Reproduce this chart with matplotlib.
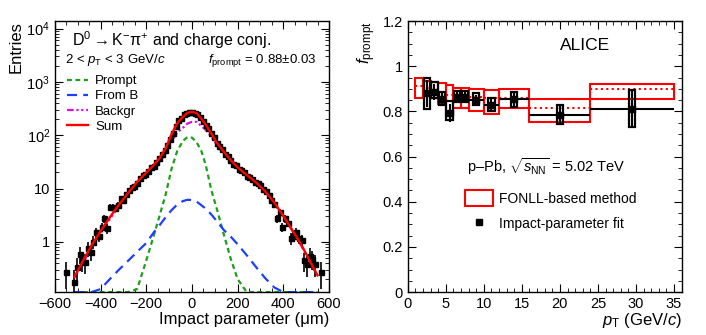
import numpy as np
import matplotlib
matplotlib.use("Agg")
import matplotlib.pyplot as plt
from matplotlib.patches import Rectangle, Patch
from matplotlib.lines import Line2D
from matplotlib.ticker import MultipleLocator, FixedLocator, LogLocator, NullFormatter, FuncFormatter

plt.rcParams["font.family"] = "Liberation Sans"
plt.rcParams["mathtext.fontset"] = "custom"
plt.rcParams["mathtext.rm"] = "Liberation Sans"
plt.rcParams["mathtext.it"] = "Liberation Sans:italic"
plt.rcParams["mathtext.bf"] = "Liberation Sans:bold"

# ---- left panel: impact parameter distribution, 2 < pT < 3 GeV/c ----
counts = [0.27, 0, 0, 0.18, 0.34, 0.60, 0.45, 0.42, 0.75, 0.65,
          1.0, 1.5, 1.3, 1.9, 2.75, 1.78, 4.5, 4.5, 4.4, 5.0,
          6.5, 6.0, 7.8, 9.3, 10.5, 11, 12.5, 15.5, 18, 19,
          21, 25, 26, 32, 37, 44, 53, 65, 84, 112,
          150, 190, 210, 245, 262, 278, 272, 265, 255, 222,
          188, 155, 135, 108, 92, 70, 63, 54, 44, 40,
          35, 29, 28, 23, 22.5, 20, 17, 16.5, 15, 13,
          12.5, 11.5, 9.8, 8.8, 7.5, 6.0, 5.2, 2.75, 3.6, 1.9,
          2.75, 2.3, 1.16, 1.3, 1.5, 1.2, 1.08, 0.45, 0.39, 0.55,
          0.48, 0.39, 0, 0.27]
count_err = [0.14, 0, 0, 0.115, 0.16, 0.21, 0.18, 0.175, 0.23, 0.22,
             0.27, 0.33, 0.31, 0.37, 0.45, 0.36, 0.57, 0.57, 0.57, 0.6,
             0.69, 0.66, 0.75, 0.82, 0.88, 0.9, 0.96, 1.06, 1.15, 1.18,
             1.24, 1.35, 1.38, 1.53, 1.64, 1.79, 1.97, 2.18, 2.48, 2.86,
             3.3, 3.7, 3.9, 4.2, 4.4, 4.5, 4.5, 4.4, 4.3, 4.0,
             3.7, 3.4, 3.1, 2.8, 2.6, 2.26, 2.14, 1.99, 1.79, 1.71,
             1.6, 1.46, 1.43, 1.3, 1.28, 1.21, 1.11, 1.1, 1.05, 0.97,
             0.96, 0.92, 0.85, 0.8, 0.74, 0.66, 0.62, 0.45, 0.51, 0.37,
             0.45, 0.41, 0.29, 0.31, 0.33, 0.3, 0.28, 0.18, 0.17, 0.2,
             0.19, 0.17, 0, 0.14]
bin_width = 12
first_bin = -552

curve_x = [-515, -480, -440, -400, -360, -320, -280, -240, -200, -170, -140, -115,
           -90, -65, -40, -20, 0, 20, 40, 60, 85, 110, 140, 170, 200, 240,
           280, 320, 360, 400, 440, 480, 520, 550]
prompt = [0.01, 0.01, 0.01, 0.01, 0.01, 0.01, 0.01, 0.13, 0.45, 1.2, 3.3, 7.8,
          23, 50, 78, 92, 90, 74, 52, 28, 9.3, 4.0, 1.35, 0.48, 0.2, 0.06,
          0.01, 0.01, 0.01, 0.01, 0.01, 0.01, 0.01, 0.01]
from_b = [0.01, 0.03, 0.08, 0.13, 0.2, 0.3, 0.44, 0.65, 0.95, 1.45, 2.1, 2.9,
          3.9, 5.0, 5.8, 6.15, 6.1, 5.7, 4.9, 4.2, 3.25, 2.4, 1.66, 1.25, 0.9, 0.56,
          0.34, 0.21, 0.14, 0.09, 0.05, 0.03, 0.02, 0.01]
backgr = [0.21, 0.39, 0.78, 1.45, 2.65, 4.65, 7.75, 12.5, 18.6, 24.1, 32.4, 46,
          76, 112, 137, 165, 178, 178, 150, 126, 95, 64.5, 45.5, 32, 24, 17.3,
          12.8, 8.7, 5.35, 2.99, 1.6, 0.83, 0.39, 0.22]
total = [0.22, 0.42, 0.855, 1.6, 2.87, 4.97, 8.2, 13.3, 20, 26.8, 38, 57,
         103, 167, 221, 263, 275, 260, 206, 158, 107, 71, 48.6, 34, 25, 17.9,
         13.1, 8.9, 5.5, 3.08, 1.65, 0.865, 0.41, 0.235]

# ---- right panel: f_prompt vs pT ----
fonll_lo_pt = [1, 2, 3, 4, 5, 6, 7, 8, 10, 12, 16, 24]
fonll_hi_pt = [2, 3, 4, 5, 6, 7, 8, 10, 12, 16, 24, 35]
fonll_c = [0.911, 0.905, 0.895, 0.885, 0.875, 0.87, 0.87, 0.865, 0.86, 0.86, 0.817, 0.898]
fonll_min = [0.861, 0.87, 0.86, 0.835, 0.785, 0.815, 0.815, 0.80, 0.79, 0.815, 0.753, 0.855]
fonll_max = [0.949, 0.935, 0.93, 0.925, 0.915, 0.905, 0.905, 0.90, 0.893, 0.90, 0.855, 0.92]

fit_lo_pt = [2, 3, 4, 5, 6, 7, 8, 10, 12, 16, 24]
fit_hi_pt = [3, 4, 5, 6, 7, 8, 10, 12, 16, 24, 35]
fit_val = [0.88, 0.885, 0.855, 0.795, 0.865, 0.865, 0.85, 0.83, 0.853, 0.786, 0.812]
fit_stat = [0.06, 0.035, 0.025, 0.04, 0.022, 0.022, 0.022, 0.028, 0.03, 0.038, 0.08]
fit_syst_min = [0.81, 0.86, 0.83, 0.76, 0.84, 0.84, 0.83, 0.80, 0.82, 0.746, 0.731]
fit_syst_max = [0.95, 0.93, 0.885, 0.845, 0.89, 0.89, 0.88, 0.86, 0.885, 0.827, 0.896]

fig = plt.figure(figsize=(7.06, 3.35), dpi=100)
ax1 = fig.add_axes([0.0779, 0.128, 0.388, 0.810])
ax2 = fig.add_axes([0.5775, 0.128, 0.388, 0.809])

ymin = 0.114
ax1.set_yscale("log")
ax1.set_xlim(-600, 600)
ax1.set_ylim(ymin, 1.4e4)

curve_x = np.array(curve_x)
ax1.plot(curve_x, np.maximum(prompt, ymin), color="#1e9e1e", lw=1.6, ls=(0, (2.2, 1.6)), label="Prompt")
ax1.plot(curve_x, np.maximum(from_b, ymin), color="#1f3fff", lw=1.6, ls=(0, (4.5, 2.8)), label="From B")
ax1.plot(curve_x, np.maximum(backgr, ymin), color="#dd10dd", lw=1.6, ls=(0, (3, 1.2, 1, 1.2, 1, 1.2)), label="Backgr")

counts = np.array(counts, dtype=float)
count_err = np.array(count_err, dtype=float)
centres = first_bin + bin_width * np.arange(len(counts))
keep = counts > 0
ax1.errorbar(centres[keep], counts[keep], yerr=count_err[keep], xerr=bin_width / 2,
             fmt="s", color="black", ms=3.6, lw=1.2, capsize=0, zorder=3)
ax1.plot(curve_x, total, color="red", lw=1.7, label="Sum", zorder=4)

ax1.xaxis.set_major_locator(MultipleLocator(200))
ax1.xaxis.set_minor_locator(MultipleLocator(50))
ax1.yaxis.set_major_locator(FixedLocator([1, 10, 100, 1000, 10000]))
ax1.set_yticklabels(["1", "10", "10$^{2}$", "10$^{3}$", "10$^{4}$"])
ax1.yaxis.set_minor_locator(LogLocator(base=10, subs=np.arange(2, 10)))
ax1.yaxis.set_minor_formatter(NullFormatter())

ax1.set_xlabel("Impact parameter (μm)", fontsize=12, loc="right")
ax1.xaxis.set_label_coords(1.0, -0.075)
ax1.set_ylabel("Entries", fontsize=12, loc="top")
ax1.yaxis.set_label_coords(-0.115, 1.0)

ax1.text(0.062, 0.928, "D$^{0}$ $\\!\\!\\rightarrow\\!\\!$ K$^{-}$π$^{+}$ and charge conj.", transform=ax1.transAxes,
         fontsize=11.5, va="center", ha="left")
ax1.text(0.036, 0.855, "2 < $p_{\\rm T}$ < 3 GeV/$c$", transform=ax1.transAxes,
         fontsize=9.5, va="center", ha="left")
ax1.text(0.955, 0.855, "$f_{\\rm prompt}$ = 0.88±0.03", transform=ax1.transAxes,
         fontsize=9.5, va="center", ha="right")

ax1.legend(loc="upper left", bbox_to_anchor=(0.045, 0.80), frameon=False, fontsize=9.5,
           handlelength=1.6, handletextpad=0.5, labelspacing=0.22, borderaxespad=0, borderpad=0)

# right panel
for lo, hi, c, fmin, fmax in zip(fonll_lo_pt, fonll_hi_pt, fonll_c, fonll_min, fonll_max):
    ax2.add_patch(Rectangle((lo, fmin), hi - lo, fmax - fmin, fill=False, ec="red", lw=1.5, zorder=2))
    ax2.hlines(c, lo, hi, colors="red", linestyles=(0, (1, 1.6)), lw=1.5, zorder=2)

box_w = 0.85
for lo, hi, v, smin, smax in zip(fit_lo_pt, fit_hi_pt, fit_val, fit_syst_min, fit_syst_max):
    c = 0.5 * (lo + hi)
    ax2.hlines(v, lo, hi, colors="black", lw=1.5, zorder=3)
    ax2.add_patch(Rectangle((c - box_w / 2, smin), box_w, smax - smin, fill=False, ec="black", lw=1.6, zorder=3))
fit_c = 0.5 * (np.array(fit_lo_pt) + np.array(fit_hi_pt))
ax2.errorbar(fit_c, fit_val, yerr=fit_stat, fmt="s", color="black", ms=4, lw=1.5, capsize=0, zorder=4)

ax2.set_xlim(0, 36)
ax2.set_ylim(0, 1.2)
ax2.xaxis.set_major_locator(MultipleLocator(5))
ax2.xaxis.set_minor_locator(MultipleLocator(1))
ax2.yaxis.set_major_locator(MultipleLocator(0.2))
ax2.yaxis.set_minor_locator(MultipleLocator(0.05))
ax2.yaxis.set_major_formatter(FuncFormatter(lambda v, p: "%g" % round(v, 2)))

ax2.set_xlabel("$p_{\\rm T}$ (GeV/$c$)", fontsize=12, loc="right")
ax2.xaxis.set_label_coords(1.0, -0.07)
ax2.set_ylabel("$f_{\\rm prompt}$", fontsize=12, loc="top")
ax2.yaxis.set_label_coords(-0.11, 1.0)

ax2.text(0.647, 0.911, "ALICE", transform=ax2.transAxes, fontsize=12.5, ha="center", va="center")
ax2.text(0.216, 0.461, "p–Pb, $\\sqrt{s_{\\rm NN}}$ = 5.02 TeV", transform=ax2.transAxes,
         fontsize=10.5, ha="left", va="center")

handles = [Patch(facecolor="none", edgecolor="red", lw=1.5),
           Line2D([], [], marker="s", color="black", ls="none", ms=4)]
ax2.legend(handles, ["FONLL-based method", "Impact-parameter fit"], loc="upper left",
           bbox_to_anchor=(0.21, 0.375), frameon=False, fontsize=10, handlelength=2.0,
           handleheight=1.3, handletextpad=0.45, labelspacing=0.75, borderaxespad=0, borderpad=0)

for ax in (ax1, ax2):
    ax.tick_params(which="both", direction="in", top=True, right=True, labelsize=10.5)
    ax.tick_params(which="major", length=6)
    ax.tick_params(which="minor", length=3)
    for s in ax.spines.values():
        s.set_linewidth(1.0)

fig.savefig("out.png", dpi=100)
